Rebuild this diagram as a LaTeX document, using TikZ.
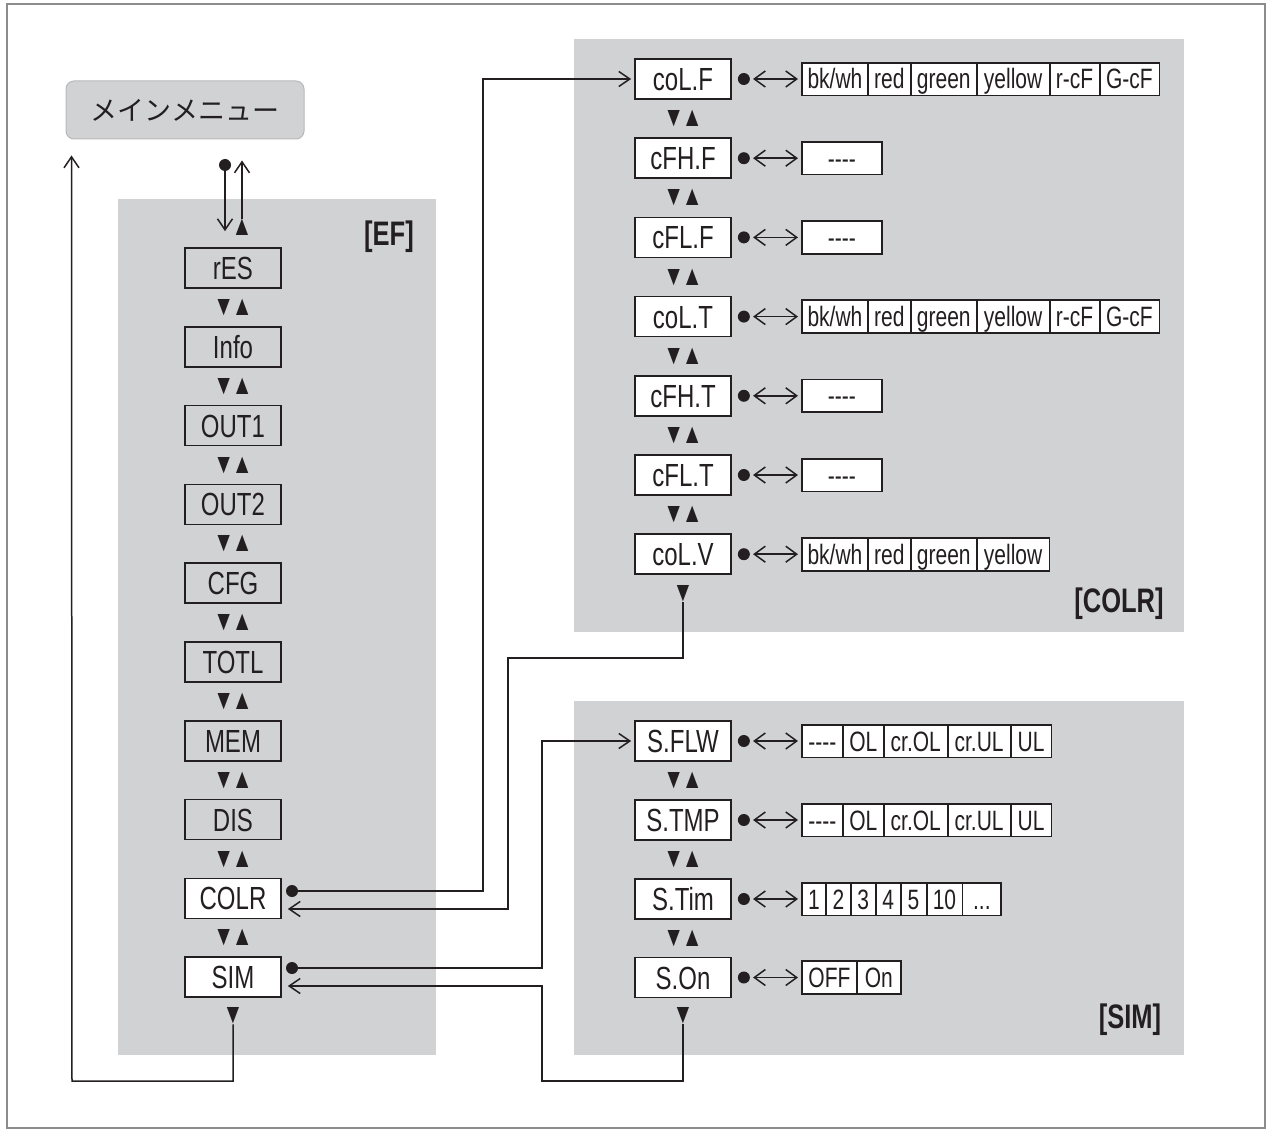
\documentclass[tikz,border=0pt]{standalone}
\usepackage{fontspec}
\setmainfont{Liberation Sans}[FakeStretch=0.75]
\newfontfamily\jpfont{Noto Sans CJK JP}
\usetikzlibrary{arrows.meta}
\definecolor{panel}{RGB}{209,210,212}
\definecolor{framegray}{RGB}{140,140,140}
\definecolor{ink}{RGB}{35,31,32}
\tikzset{
  item/.style={draw=ink,line width=1.7pt,fill=white,minimum width=96pt,minimum height=40pt,inner sep=0pt,text=ink,font=\fontsize{32}{34}\selectfont,text height=23pt,text depth=0pt},
  itemg/.style={item,fill=panel},
  cell/.style={draw=ink,line width=0.9pt,fill=white,minimum height=32pt,inner sep=0pt,anchor=west,text=ink,font=\fontsize{28}{30}\selectfont,text height=20pt,text depth=0pt},
  tri/.style={inner sep=0pt,text=ink,font=\fontsize{28}{29}\selectfont},
  dotn/.style={circle,fill=ink,inner sep=0pt,minimum size=12pt},
  con/.style={draw=ink,line width=1.5pt},
  arr/.style={con,-{Straight Barb[length=11pt,width=15pt]}},
  dbl/.style={con,{Straight Barb[length=11pt,width=16pt]}-{Straight Barb[length=11pt,width=16pt]}},
  lbl/.style={font=\bfseries\fontsize{34}{36}\selectfont,inner sep=0pt,text=ink},
  outerbox/.style={draw=ink,line width=1.7pt},
}
\newcommand\updown{▼\kern-2.5pt▲}
\newcommand\colcells[2]{%
  \node[cell,minimum width=65pt] (#1a) at (802,#2) {bk/wh};
  \node[cell,minimum width=42pt] (#1b) at (#1a.east) {red};
  \node[cell,minimum width=65pt] (#1c) at (#1b.east) {green};
  \node[cell,minimum width=72pt] (#1d) at (#1c.east) {yellow};
}
\newcommand\cfcells[1]{%
  \node[cell,minimum width=49pt] (#1e) at (#1d.east) {r-cF};
  \node[cell,minimum width=59pt] (#1f) at (#1e.east) {G-cF};
}
\newcommand\olcells[2]{%
  \node[cell,minimum width=40pt] (#1a) at (802,#2) {-{}-{}-{}-};
  \node[cell,minimum width=40pt] (#1b) at (#1a.east) {OL};
  \node[cell,minimum width=63pt] (#1c) at (#1b.east) {cr.OL};
  \node[cell,minimum width=62pt] (#1d) at (#1c.east) {cr.UL};
  \node[cell,minimum width=40pt] (#1e) at (#1d.east) {UL};
  \draw[outerbox] (#1a.north west) rectangle (#1e.south east);
}
\begin{document}
\begin{tikzpicture}[x=1pt,y=-1pt]
\useasboundingbox (0,0) rectangle (1268,1131);
\fill[white] (0,0) rectangle (1268,1131);
\draw[framegray,line width=2.5pt] (7,4) rectangle (1265,1128);

% panels
\fill[panel] (118,199) rectangle (436,1055);
\fill[panel] (574,39) rectangle (1184,632);
\fill[panel] (574,701) rectangle (1184,1055);

% main menu
\node[draw=gray!55,line width=1pt,fill=panel,rounded corners=8pt,minimum width=238pt,minimum height=58pt,inner sep=0pt,text=ink,font=\jpfont\fontsize{27}{29}\selectfont] (mm) at (185,110) {メインメニュー};

% labels
\node[lbl] (lef) at (389,237) {[EF]};
\node[lbl] (lcolr) at (1119,604) {[COLR]};
\node[lbl] (lsim) at (1130,1020) {[SIM]};

% EF column
\node[itemg] (res) at (233,268) {rES};
\node[itemg] (info) at (233,346.8) {Info};
\node[itemg] (out1) at (233,425.6) {OUT1};
\node[itemg] (out2) at (233,504.4) {OUT2};
\node[itemg] (cfg) at (233,583.2) {CFG};
\node[itemg] (totl) at (233,662) {TOTL};
\node[itemg] (mem) at (233,740.8) {MEM};
\node[itemg] (dis) at (233,819.6) {DIS};
\node[item] (colr) at (233,898.4) {COLR};
\node[item] (sim) at (233,977.2) {SIM};
\foreach \y [count=\i] in {307.4,386.2,465,543.8,622.6,701.4,780.2,859,937.8} {
  \node[tri] (eft\i) at (233,\y) {\updown};
}
\node[tri] (simend) at (233,1016) {▼};
\node[tri] (topup) at (242,227) {▲};
\node[dotn] (topdot) at (225,165) {};

% COLR column
\node[item] (colf) at (683,79) {coL.F};
\node[item] (cfhf) at (683,158.2) {cFH.F};
\node[item] (cflf) at (683,237.4) {cFL.F};
\node[item] (colt) at (683,316.6) {coL.T};
\node[item] (cfht) at (683,395.8) {cFH.T};
\node[item] (cflt) at (683,475) {cFL.T};
\node[item] (colv) at (683,554.2) {coL.V};
\foreach \y [count=\i] in {118.6,197.8,277,356.2,435.4,514.6} {
  \node[tri] (colrt\i) at (683,\y) {\updown};
}
\node[tri] (colvend) at (683,594) {▼};

% COLR values
\colcells{vcolf}{79}\cfcells{vcolf}
\draw[outerbox] (vcolfa.north west) rectangle (vcolff.south east);
\node[cell,minimum width=79pt] (vcfhf) at (802,158.2) {-{}-{}-{}-};
\draw[outerbox] (vcfhf.north west) rectangle (vcfhf.south east);
\node[cell,minimum width=79pt] (vcflf) at (802,237.4) {-{}-{}-{}-};
\draw[outerbox] (vcflf.north west) rectangle (vcflf.south east);
\colcells{vcolt}{316.6}\cfcells{vcolt}
\draw[outerbox] (vcolta.north west) rectangle (vcoltf.south east);
\node[cell,minimum width=79pt] (vcfht) at (802,395.8) {-{}-{}-{}-};
\draw[outerbox] (vcfht.north west) rectangle (vcfht.south east);
\node[cell,minimum width=79pt] (vcflt) at (802,475) {-{}-{}-{}-};
\draw[outerbox] (vcflt.north west) rectangle (vcflt.south east);
\colcells{vcolv}{554.2}
\draw[outerbox] (vcolva.north west) rectangle (vcolvd.south east);

% SIM column
\node[item] (sflw) at (683,741) {S.FLW};
\node[item] (stmp) at (683,820) {S.TMP};
\node[item] (stim) at (683,899) {S.Tim};
\node[item] (son) at (683,977.5) {S.On};
\foreach \y [count=\i] in {780.5,859.5,938.2} {
  \node[tri] (simt\i) at (683,\y) {\updown};
}
\node[tri] (sonend) at (683,1016) {▼};

% SIM values
\olcells{vsflw}{741}
\olcells{vstmp}{820}
\node[cell,minimum width=23pt] (vstima) at (802,899) {1};
\node[cell,minimum width=24pt] (vstimb) at (vstima.east) {2};
\node[cell,minimum width=24pt] (vstimc) at (vstimb.east) {3};
\node[cell,minimum width=24pt] (vstimd) at (vstimc.east) {4};
\node[cell,minimum width=25pt] (vstime) at (vstimd.east) {5};
\node[cell,minimum width=35pt] (vstimf) at (vstime.east) {10};
\node[cell,minimum width=38pt] (vstimg) at (vstimf.east) {...};
\draw[outerbox] (vstima.north west) rectangle (vstimg.south east);
\node[cell,minimum width=54pt] (vsona) at (802,977.5) {OFF};
\node[cell,minimum width=43pt] (vsonb) at (vsona.east) {On};
\draw[outerbox] (vsona.north west) rectangle (vsonb.south east);

% dots and double arrows
\foreach \src/\dst in {colf/vcolfa,cfhf/vcfhf,cflf/vcflf,colt/vcolta,cfht/vcfht,cflt/vcflt,colv/vcolva,sflw/vsflwa,stmp/vstmpa,stim/vstima,son/vsona} {
  \node[dotn] (d\src) at ([xshift=12pt]\src.east) {};
  \draw[dbl,shorten <=3pt,shorten >=4pt] (d\src.east) -- (\dst.west);
}

% top connection with main menu
\draw[arr] (topdot.south) -- ([xshift=-8pt,yshift=16pt]res.north);
\draw[arr] (topup.north) -- ([xshift=57pt,yshift=-21pt]mm.south);

% COLR connections
\node[dotn] (cdot) at (292,891) {};
\coordinate (cb1) at (483,891);
\coordinate (cb2) at (483,79);
\draw[arr,shorten >=3pt] (cdot.center) -- (cb1) -- (cb2) -- (colf.west);
\coordinate (cr1) at (683,658);
\coordinate (cr2) at (508,658);
\coordinate (cr3) at (508,909);
\draw[arr] (colvend.south) -- (cr1) -- (cr2) -- (cr3) -- ([xshift=6pt,yshift=-10.6pt]colr.east);

% SIM connections
\node[dotn] (sdot) at (292,968) {};
\coordinate (sb1) at (542,968);
\coordinate (sb2) at (542,741);
\draw[arr,shorten >=3pt] (sdot.center) -- (sb1) -- (sb2) -- (sflw.west);
\coordinate (sr1) at (683,1081);
\coordinate (sr2) at (542,1081);
\coordinate (sr3) at (542,986);
\draw[arr] (sonend.south) -- (sr1) -- (sr2) -- (sr3) -- ([xshift=6pt,yshift=-8.8pt]sim.east);

% return to main menu
\coordinate (lr1) at (233,1081);
\coordinate (lr2) at (72,1081);
\draw[arr] (simend.south) -- (lr1) -- (lr2) -- ([xshift=6pt,yshift=-16pt]mm.south west);
\end{tikzpicture}
\end{document}
